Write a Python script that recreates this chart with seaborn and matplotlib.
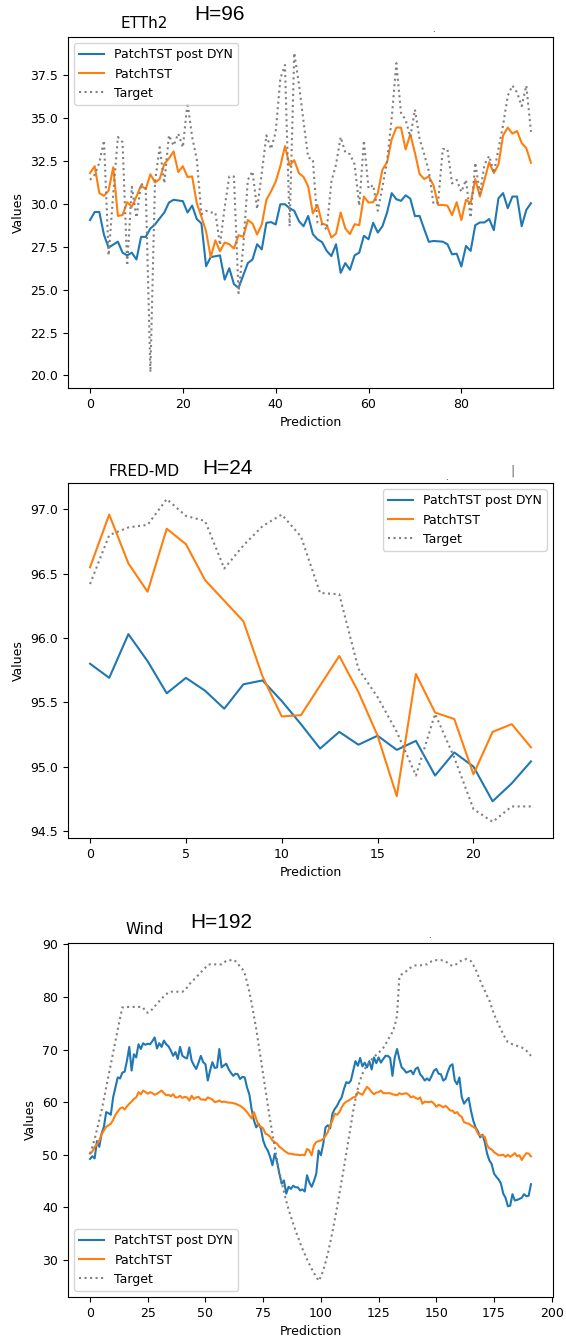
import numpy as np
import pandas as pd
import matplotlib
matplotlib.use("Agg")
import matplotlib.pyplot as plt
import seaborn as sns

# ---------------- data ----------------
etth2_dyn = [29.06, 29.53, 29.53, 28.2, 27.45, 27.63, 27.8, 27.16, 27.0, 27.16,
             26.76, 28.08, 28.08, 28.57, 28.8, 29.16, 29.5, 30.08, 30.24, 30.2,
             30.16, 29.5, 29.9, 29.12, 28.86, 26.37, 26.9, 26.95, 27.0, 25.59,
             26.25, 25.33, 25.1, 25.83, 26.55, 26.76, 27.65, 27.35, 28.9, 28.94,
             28.8, 29.98, 29.98, 29.75, 29.6, 29.0, 28.7, 29.3, 28.24, 27.94,
             27.77, 27.26, 26.96, 27.65, 25.98, 26.55, 26.16, 27.0, 27.16, 28.14,
             27.94, 28.9, 28.33, 28.7, 29.5, 30.63, 30.27, 30.18, 30.5, 30.31,
             29.29, 29.3, 28.53, 27.79, 27.84, 27.82, 27.8, 27.65, 27.06, 27.1,
             26.35, 27.55, 27.26, 28.76, 28.92, 28.92, 29.12, 28.47, 30.33, 30.63,
             29.75, 30.43, 30.43, 28.7, 29.65, 30.04]
etth2_base = [31.8, 32.2, 30.63, 30.47, 30.78, 32.14, 29.3, 29.35, 30.1, 29.84,
              30.43, 31.08, 30.86, 31.73, 31.25, 31.45, 32.33, 32.65, 33.06, 31.86,
              32.2, 31.57, 31.6, 30.04, 29.25, 28.4, 26.9, 27.88, 27.24, 27.75,
              27.65, 27.4, 28.18, 28.08, 29.06, 28.86, 28.22, 28.8, 30.24, 30.73,
              31.3, 32.2, 33.37, 32.24, 32.55, 31.8, 31.57, 31.02, 29.45, 29.94,
              28.86, 28.76, 28.04, 28.27, 29.5, 28.57, 28.24, 28.82, 28.76, 30.43,
              30.08, 30.1, 30.63, 32.0, 32.43, 33.77, 34.45, 34.45, 33.18, 34.06,
              32.98, 31.75, 31.45, 31.6, 31.08, 29.94, 29.94, 29.9, 29.35, 30.1,
              29.06, 30.24, 30.04, 31.45, 30.43, 31.41, 32.43, 31.8, 32.3, 34.0,
              34.45, 34.1, 34.25, 33.55, 33.25, 32.4]
etth2_target = [31.4, 31.7, 32.4, 33.7, 27.0, 30.6, 33.9, 33.6, 26.4, 31.0,
                29.2, 31.2, 30.9, 20.2, 31.3, 33.3, 31.2, 34.0, 33.4, 34.1,
                33.3, 35.9, 33.9, 32.6, 29.4, 29.6, 29.5, 29.5, 27.6, 29.8,
                31.6, 31.6, 24.8, 27.5, 31.4, 31.9, 29.7, 31.8, 34.0, 33.2,
                34.2, 37.3, 38.1, 28.7, 38.8, 37.0, 34.8, 32.7, 32.6, 28.9,
                28.8, 28.5, 31.3, 32.3, 33.9, 33.0, 32.9, 32.3, 29.9, 33.7,
                30.9, 31.1, 29.6, 31.0, 32.5, 35.0, 38.2, 35.3, 34.9, 33.9,
                35.5, 33.8, 32.9, 31.9, 30.0, 30.1, 33.2, 33.2, 31.2, 31.4,
                30.7, 31.4, 29.2, 32.4, 30.6, 32.3, 32.8, 31.8, 33.2, 34.6,
                36.3, 36.9, 36.5, 35.7, 36.9, 34.2]

fred_dyn = [95.80, 95.69, 96.03, 95.82, 95.57, 95.69, 95.59, 95.45, 95.64, 95.67,
            95.51, 95.33, 95.14, 95.27, 95.17, 95.24, 95.13, 95.20, 94.93, 95.11,
            95.00, 94.73, 94.87, 95.04]
fred_base = [96.55, 96.96, 96.58, 96.36, 96.85, 96.73, 96.45, 96.29, 96.13, 95.70,
             95.39, 95.40, 95.63, 95.86, 95.58, 95.24, 94.77, 95.72, 95.42, 95.37,
             94.94, 95.27, 95.33, 95.15]
fred_target = [96.42, 96.80, 96.86, 96.88, 97.08, 96.95, 96.91, 96.54, 96.72, 96.87,
               96.96, 96.79, 96.35, 96.34, 95.76, 95.54, 95.27, 94.93, 95.41, 95.07,
               94.67, 94.57, 94.69, 94.69]

wind_dyn = [49.2, 49.7, 49.3, 52.6, 51.5, 54.0, 55.3, 58.1, 57.9, 57.6,
            60.9, 62.8, 64.7, 64.5, 65.6, 65.8, 67.9, 70.5, 66.0, 69.1,
            68.5, 71.0, 70.1, 71.2, 70.9, 71.1, 71.0, 71.6, 72.3, 70.2,
            71.2, 70.5, 71.7, 71.0, 70.6, 69.8, 68.8, 69.5, 68.2, 70.5,
            68.8, 68.5, 68.3, 70.4, 67.9, 67.0, 66.3, 67.5, 68.8, 67.6,
            67.2, 64.1, 66.0, 67.6, 66.5, 66.6, 70.1, 66.6, 67.0, 67.3,
            66.3, 65.6, 65.0, 65.4, 65.3, 64.4, 64.8, 64.7, 62.8, 61.5,
            58.6, 56.5, 55.2, 55.9, 55.0, 52.7, 51.5, 50.8, 49.6, 48.0,
            50.2, 48.6, 46.4, 44.5, 45.1, 42.6, 43.9, 43.5, 44.1, 43.8,
            43.8, 43.2, 43.4, 43.0, 46.1, 44.7, 43.9, 45.0, 46.4, 50.8,
            49.9, 52.0, 55.2, 55.6, 55.0, 57.8, 58.7, 59.3, 60.2, 60.9,
            62.5, 63.8, 63.6, 64.1, 66.0, 67.8, 66.9, 68.4, 66.8, 67.5,
            66.6, 67.8, 66.2, 68.5, 67.4, 68.5, 67.5, 68.2, 68.8, 68.8,
            68.4, 65.0, 68.5, 70.1, 68.2, 66.6, 66.2, 65.6, 65.8, 66.0,
            65.3, 66.3, 66.6, 65.3, 64.8, 64.1, 64.5, 64.1, 65.0, 66.0,
            66.3, 65.4, 65.3, 64.1, 64.4, 65.8, 66.9, 67.2, 64.1, 63.4,
            64.7, 61.0, 59.7, 60.3, 60.8, 58.4, 56.5, 55.2, 54.5, 53.3,
            53.8, 52.4, 50.2, 48.9, 48.2, 46.4, 45.8, 45.3, 44.5, 42.6,
            41.8, 40.2, 40.3, 42.5, 41.3, 41.4, 41.6, 41.8, 42.5, 42.1,
            42.2, 44.4]
wind_base = [50.2, 50.6, 51.5, 51.9, 52.7, 53.9, 54.6, 55.3, 55.6, 55.9,
             56.6, 57.6, 58.2, 58.8, 59.0, 58.6, 59.2, 59.7, 60.1, 60.6,
             60.9, 61.9, 61.5, 62.2, 61.9, 61.6, 61.9, 61.7, 61.4, 61.6,
             61.9, 62.2, 61.7, 61.3, 61.4, 61.1, 61.5, 60.9, 60.9, 61.2,
             60.8, 61.0, 60.9, 60.3, 61.2, 60.6, 60.9, 61.0, 60.5, 60.5,
             60.4, 60.9, 60.7, 60.5, 60.0, 60.1, 60.3, 60.0, 60.1, 60.0,
             59.9, 59.9, 59.8, 59.7, 59.5, 59.3, 59.0, 58.6, 58.1, 57.5,
             56.9, 58.1, 56.8, 55.6, 55.3, 55.0, 54.0, 53.8, 53.4, 52.7,
             52.4, 52.1, 51.5, 51.2, 50.8, 50.5, 50.2, 50.2, 50.1, 50.0,
             50.0, 49.9, 50.0, 49.9, 51.1, 50.8, 49.9, 51.8, 52.4, 52.6,
             52.7, 53.0, 53.6, 54.3, 55.6, 56.5, 57.8, 57.6, 58.1, 59.0,
             59.7, 60.1, 60.3, 60.6, 60.9, 61.0, 61.9, 61.6, 61.4, 62.2,
             62.9, 62.5, 61.9, 61.5, 61.8, 61.9, 62.2, 61.7, 61.7, 61.7,
             61.7, 61.5, 61.4, 61.3, 61.7, 61.5, 61.6, 61.7, 61.4, 60.9,
             61.1, 60.8, 60.6, 60.9, 59.7, 60.1, 60.0, 60.0, 60.1, 59.7,
             59.1, 59.5, 59.3, 59.0, 59.3, 58.9, 58.4, 58.4, 57.9, 58.1,
             57.5, 57.2, 56.2, 56.0, 55.9, 55.6, 55.3, 55.0, 54.0, 53.7,
             53.6, 53.4, 51.8, 51.2, 51.0, 50.5, 50.2, 49.9, 49.9, 50.0,
             49.6, 50.0, 49.6, 49.9, 50.3, 49.7, 49.9, 49.0, 49.7, 50.3,
             50.2, 49.7]
wind_target = [50.2, 51.5, 53.0, 54.8, 56.6, 58.4, 60.6, 62.8, 65.0, 67.2,
               69.4, 71.6, 73.8, 76.0, 78.0, 78.1, 78.1, 78.1, 78.1, 78.1,
               78.1, 78.1, 78.1, 78.0, 77.2, 77.0, 77.2, 77.7, 78.2, 78.7,
               79.2, 79.7, 80.1, 80.5, 80.9, 81.0, 81.0, 81.0, 81.0, 81.0,
               81.0, 81.2, 81.8, 82.4, 82.9, 83.3, 83.8, 84.2, 84.7, 85.1,
               85.6, 86.1, 86.2, 86.2, 86.2, 86.2, 86.2, 86.2, 86.5, 86.9,
               86.9, 87.0, 87.1, 86.8, 86.4, 85.7, 85.3, 84.5, 82.8, 81.0,
               78.8, 76.3, 73.9, 71.0, 68.0, 65.3, 62.4, 59.5, 56.6, 54.0,
               51.5, 49.1, 46.8, 44.8, 42.9, 41.2, 39.6, 38.2, 36.9, 35.6,
               34.4, 33.2, 32.1, 31.1, 30.1, 29.2, 28.3, 27.5, 26.8, 26.0,
               26.8, 28.0, 29.5, 31.2, 33.2, 35.3, 37.6, 40.0, 42.5, 45.0,
               47.6, 50.3, 53.0, 55.7, 58.3, 60.6, 62.6, 64.2, 65.4, 66.3,
               67.0, 67.6, 68.1, 68.6, 69.0, 69.4, 69.8, 70.3, 71.0, 71.8,
               72.6, 73.3, 74.5, 76.5, 83.8, 84.3, 84.6, 84.9, 85.3, 85.6,
               85.9, 86.0, 86.0, 86.0, 86.1, 86.2, 86.2, 86.5, 86.8, 87.0,
               87.0, 87.0, 87.0, 86.9, 86.8, 86.4, 86.1, 85.9, 86.1, 86.3,
               86.6, 87.0, 87.1, 87.2, 87.1, 86.8, 86.1, 85.3, 84.2, 83.1,
               82.1, 81.2, 80.2, 79.3, 78.0, 76.7, 75.7, 74.8, 73.8, 72.9,
               72.1, 71.4, 71.2, 71.0, 70.8, 70.7, 70.5, 70.4, 70.1, 69.8,
               69.3, 68.8]

panels = [
    ("ETTh2", "H=96", etth2_dyn, etth2_base, etth2_target, "upper left"),
    ("FRED-MD", "H=24", fred_dyn, fred_base, fred_target, "upper right"),
    ("Wind", "H=192", wind_dyn, wind_base, wind_target, "lower left"),
]
series_names = ["PatchTST post DYN", "PatchTST", "Target"]

# ---------------- layout ----------------
W, H = 566, 1339
fig = plt.figure(figsize=(W / 100, H / 100), dpi=100)
plt.rcParams["font.size"] = 9

# (left, top, right, bottom) in pixels
boxes = [(68, 37, 553, 388), (68, 483, 553, 838), (68, 943, 553, 1297)]
name_pos = [(144, 24), (144, 472), (145, 930)]
h_pos = [(220, 15), (227, 468), (221, 922)]

def px(x, y):
    return x / W, 1 - y / H

for (name, hlabel, dyn, base, tgt, loc), (l, t, r, b), npos, hpos in zip(panels, boxes, name_pos, h_pos):
    ax = fig.add_axes([l / W, 1 - b / H, (r - l) / W, (b - t) / H])
    x = np.arange(len(dyn))
    sns.lineplot(x=x, y=dyn, ax=ax, color="#1f77b4", linewidth=1.5, label=series_names[0])
    sns.lineplot(x=x, y=base, ax=ax, color="#ff7f0e", linewidth=1.5, label=series_names[1])
    sns.lineplot(x=x, y=tgt, ax=ax, color="gray", linewidth=1.5, linestyle=":", label=series_names[2])
    ax.set_xlabel("Prediction", fontsize=9)
    ax.set_ylabel("Values", fontsize=9)
    ax.tick_params(labelsize=9)
    ax.legend(loc=loc, fontsize=9)
    fig.text(*px(*npos), name, ha="center", va="center", fontsize=11)
    fig.text(*px(*hpos), hlabel, ha="center", va="center", fontsize=15,
             family="Liberation Sans")

# small stray marks present in the reference screenshot
fig.text(*px(433, 30), ".", ha="center", va="center", fontsize=6)
fig.text(*px(446, 478), ".", ha="center", va="center", fontsize=6)
fig.text(*px(512, 471), "|", ha="center", va="center", fontsize=9, color="#666666")
fig.text(*px(429, 936), ".", ha="center", va="center", fontsize=6)

fig.savefig("out.png", dpi=100)
